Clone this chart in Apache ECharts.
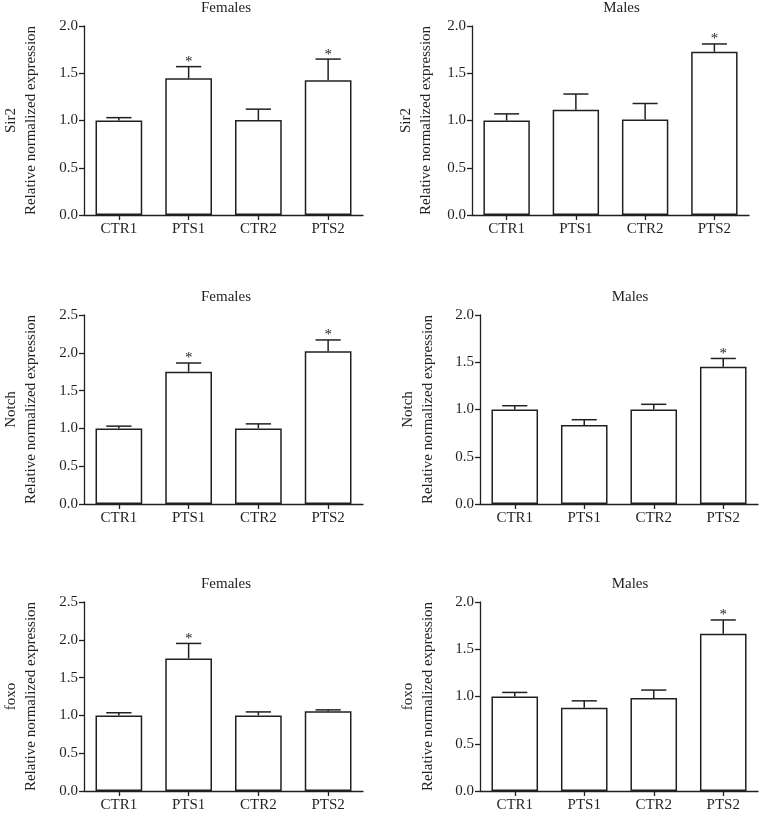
<!DOCTYPE html>
<html><head><meta charset="utf-8">
<script src="https://cdn.jsdelivr.net/npm/echarts@6/dist/echarts.min.js"></script>
<style>html,body{margin:0;padding:0;background:#fff}#c{width:765px;height:815px}</style>
</head><body><div id="c"></div>
<script>
const categories = ['CTR1', 'PTS1', 'CTR2', 'PTS2'];

const sir2FemalesMean = [1.00, 1.446, 1.005, 1.425];
const sir2FemalesSem  = [0.03, 0.124, 0.115, 0.225];
const sir2FemalesStar = [0, 1, 0, 1];

const sir2MalesMean = [1.00, 1.114, 1.01, 1.728];
const sir2MalesSem  = [0.07, 0.166, 0.17, 0.082];
const sir2MalesStar = [0, 0, 0, 1];

const notchFemalesMean = [1.00, 1.75, 1.00, 2.02];
const notchFemalesSem  = [0.03, 0.115, 0.06, 0.15];
const notchFemalesStar = [0, 1, 0, 1];

const notchMalesMean = [1.00, 0.836, 1.00, 1.453];
const notchMalesSem  = [0.04, 0.056, 0.055, 0.087];
const notchMalesStar = [0, 0, 0, 1];

const foxoFemalesMean = [1.00, 1.754, 1.00, 1.056];
const foxoFemalesSem  = [0.035, 0.198, 0.046, 0.017];
const foxoFemalesStar = [0, 1, 0, 0];

const foxoMalesMean = [1.00, 0.88, 0.983, 1.665];
const foxoMalesSem  = [0.043, 0.074, 0.085, 0.145];
const foxoMalesStar = [0, 0, 0, 1];

const panels = [
  {title: 'Females', gene: 'Sir2',  max: 2.0, mean: sir2FemalesMean,  sem: sir2FemalesSem,  star: sir2FemalesStar,  grid: {left: 79,  width: 284, top: 26,  height: 189}, gap: 43},
  {title: 'Males',   gene: 'Sir2',  max: 2.0, mean: sir2MalesMean,    sem: sir2MalesSem,    star: sir2MalesStar,    grid: {left: 472, width: 277, top: 26,  height: 189}, gap: 36},
  {title: 'Females', gene: 'Notch', max: 2.5, mean: notchFemalesMean, sem: notchFemalesSem, star: notchFemalesStar, grid: {left: 79,  width: 284, top: 315, height: 189}, gap: 43},
  {title: 'Males',   gene: 'Notch', max: 2.0, mean: notchMalesMean,   sem: notchMalesSem,   star: notchMalesStar,   grid: {left: 480, width: 278, top: 315, height: 189}, gap: 42},
  {title: 'Females', gene: 'foxo',  max: 2.5, mean: foxoFemalesMean,  sem: foxoFemalesSem,  star: foxoFemalesStar,  grid: {left: 79,  width: 284, top: 602, height: 189}, gap: 43},
  {title: 'Males',   gene: 'foxo',  max: 2.0, mean: foxoMalesMean,    sem: foxoMalesSem,    star: foxoMalesStar,    grid: {left: 480, width: 278, top: 602, height: 189}, gap: 42}
];

const FONT = '"Liberation Serif", "DejaVu Serif", serif';
const INK = '#231f20';

const option = {
  animation: false,
  backgroundColor: '#fff',
  title: [], grid: [], xAxis: [], yAxis: [], series: []
};

panels.forEach((p, i) => {
  option.title.push({
    text: p.title,
    left: p.grid.left + p.grid.width / 2 + (p.title === 'Males' ? 6 : 0),
    top: p.grid.top - 30,
    textAlign: 'center',
    textStyle: {fontFamily: FONT, fontSize: 15, fontWeight: 'normal', color: INK}
  });
  option.grid.push(Object.assign({containLabel: false}, p.grid));
  option.xAxis.push({
    type: 'category', gridIndex: i, data: categories,
    axisLine: {show: true, lineStyle: {color: INK, width: 1.3}},
    axisTick: {show: true, alignWithLabel: true, length: 5, lineStyle: {color: INK, width: 1.3}},
    axisLabel: {fontFamily: FONT, fontSize: 15, color: INK, margin: 7},
    splitLine: {show: false}
  });
  option.yAxis.push({
    type: 'value', gridIndex: i, min: 0, max: p.max, interval: 0.5,
    name: p.gene + '\nRelative normalized expression',
    nameLocation: 'middle', nameGap: p.gap, nameRotate: 90,
    nameTextStyle: {fontFamily: FONT, fontSize: 15, color: INK, lineHeight: 20, align: 'center'},
    axisLine: {show: true, lineStyle: {color: INK, width: 1.3}},
    axisTick: {show: true, length: 5, lineStyle: {color: INK, width: 1.3}},
    axisLabel: {fontFamily: FONT, fontSize: 15, color: INK, margin: 6, formatter: v => v.toFixed(1)},
    splitLine: {show: false}
  });
  option.series.push({
    type: 'bar', xAxisIndex: i, yAxisIndex: i, data: p.mean, barWidth: '67%',
    itemStyle: {color: '#fff', borderColor: INK, borderWidth: 1.5},
    z: 2
  });
  option.series.push({
    type: 'custom', xAxisIndex: i, yAxisIndex: i, z: 1,
    data: p.mean.map((m, k) => [k, m, m + p.sem[k], p.star[k]]),
    renderItem: function (params, api) {
      const x = api.value(0);
      const base = api.coord([x, api.value(1)]);
      const top = api.coord([x, api.value(2)]);
      const bw = api.size([1, 0])[0] * 0.67;
      const cap = bw * 0.27;
      const children = [
        {type: 'line', shape: {x1: base[0], y1: base[1], x2: top[0], y2: top[1]}, style: {stroke: INK, lineWidth: 1.5}},
        {type: 'line', shape: {x1: top[0] - cap, y1: top[1], x2: top[0] + cap, y2: top[1]}, style: {stroke: INK, lineWidth: 1.5}}
      ];
      if (api.value(3)) {
        children.push({type: 'text', x: top[0], y: top[1] + 3,
          style: {text: '*', fontFamily: FONT, fontSize: 15, fill: INK, align: 'center', verticalAlign: 'bottom'}});
      }
      return {type: 'group', children: children};
    }
  });
});

const chart = echarts.init(document.getElementById('c'), null, {renderer: 'canvas'});
chart.setOption(option);
</script>
</body></html>
